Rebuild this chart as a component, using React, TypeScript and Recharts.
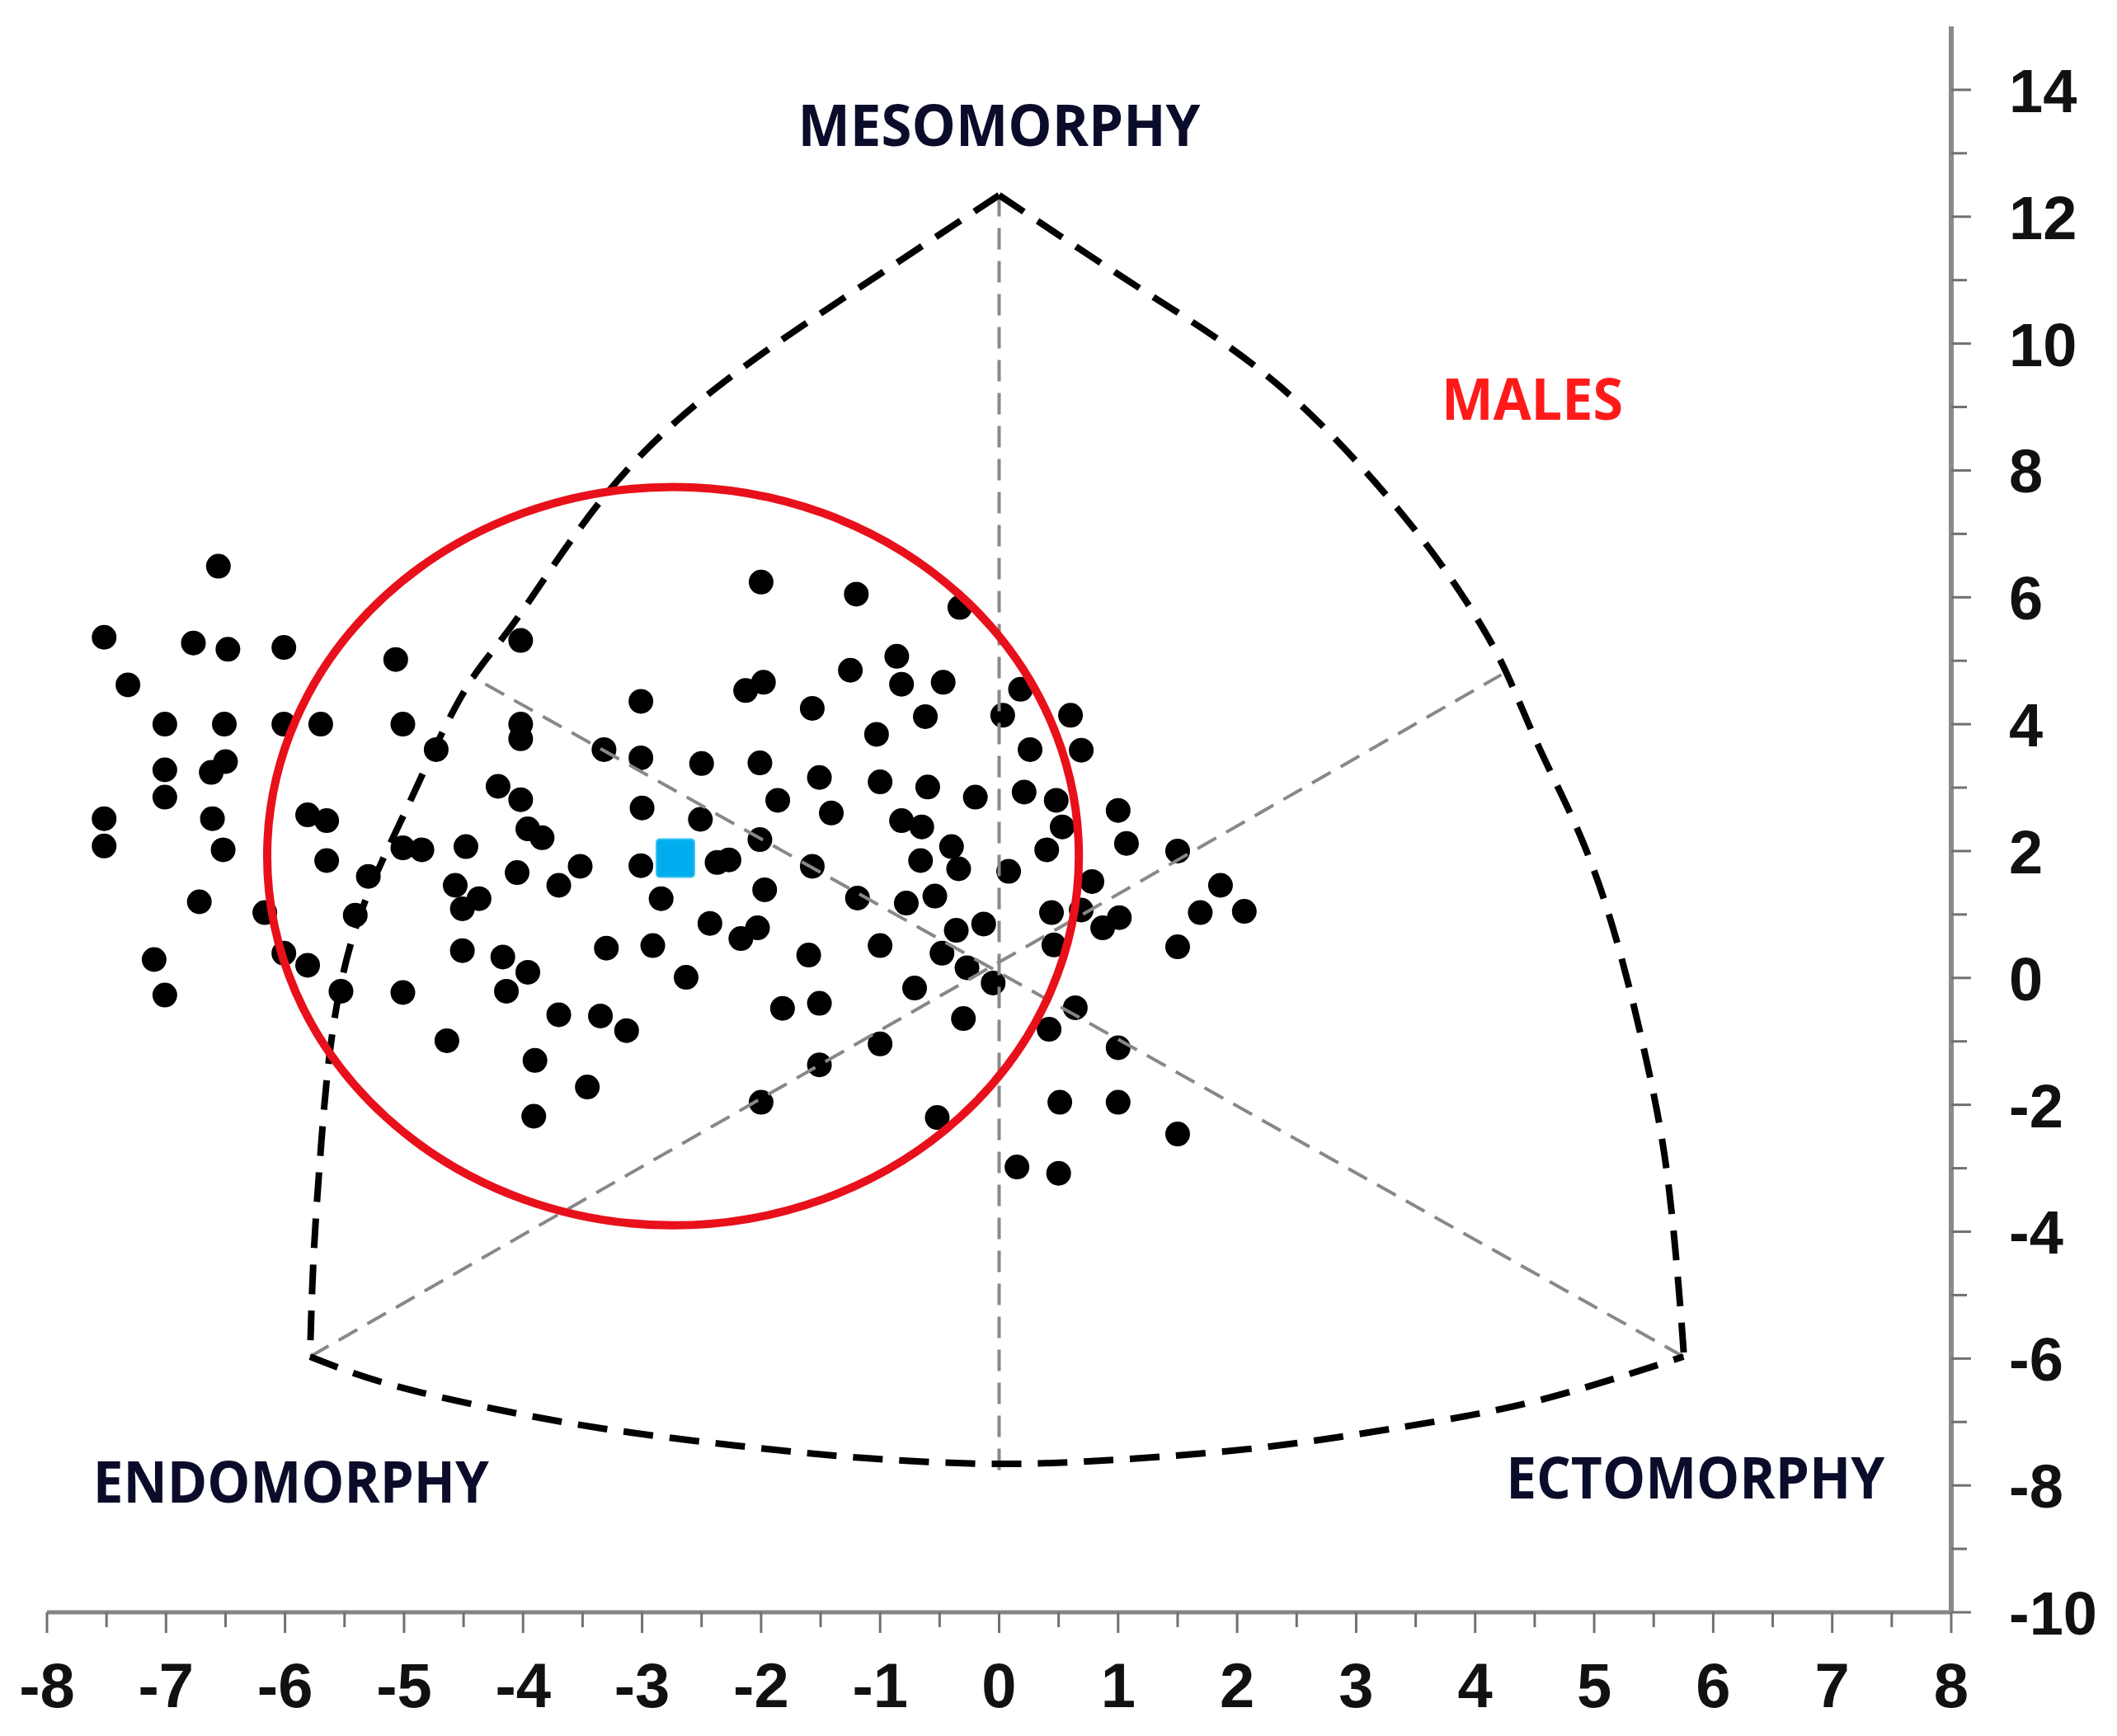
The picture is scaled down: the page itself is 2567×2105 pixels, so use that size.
import React from 'react';
import { ScatterChart, Scatter, XAxis, YAxis, ReferenceArea, ReferenceDot } from 'recharts';

type Pt = [number, number];

// axis ticks (labels only on the integers / even numbers)
const xTicks = [-8, -7.5, -7, -6.5, -6, -5.5, -5, -4.5, -4, -3.5, -3, -2.5, -2, -1.5, -1, -0.5, 0,
  0.5, 1, 1.5, 2, 2.5, 3, 3.5, 4, 4.5, 5, 5.5, 6, 6.5, 7, 7.5, 8];
const yTicks = [-10, -9, -8, -7, -6, -5, -4, -3, -2, -1, 0, 1, 2, 3, 4, 5, 6, 7, 8, 9, 10, 11, 12, 13, 14];

// individual somatotypes, endomorphic side
const endoSide: Pt[] = [
  [-6.56, 6.49], [-7.52, 5.37], [-6.77, 5.28], [-6.48, 5.18], [-6.01, 5.21], [-5.07, 5.02], [-4.02, 5.32],
  [-7.32, 4.62], [-7.01, 4.0], [-6.51, 4.0], [-6.01, 4.0], [-5.7, 4.0], [-5.01, 4.0], [-4.73, 3.6],
  [-4.02, 4.0], [-4.02, 3.77], [-7.01, 3.28], [-7.01, 2.85], [-6.62, 3.24], [-6.5, 3.41], [-7.52, 2.51],
  [-7.52, 2.08], [-6.61, 2.51], [-6.52, 2.02], [-5.81, 2.57], [-5.65, 2.48], [-5.65, 1.85], [-5.3, 1.6],
  [-5.41, 0.99], [-5.01, 2.05], [-4.85, 2.02], [-4.48, 2.07], [-4.21, 3.02], [-4.02, 2.81], [-3.96, 2.35],
  [-3.84, 2.21], [-4.05, 1.66], [-3.7, 1.46], [-3.52, 1.76], [-4.57, 1.46], [-4.37, 1.25], [-4.51, 1.09],
  [-6.72, 1.2], [-6.17, 1.03], [-6.01, 0.39], [-5.81, 0.2], [-7.1, 0.29], [-7.01, -0.27], [-5.53, -0.21],
  [-5.01, -0.23], [-4.51, 0.43], [-4.17, 0.33], [-3.96, 0.09], [-4.14, -0.21], [-4.64, -0.99],
  [-3.7, -0.58], [-3.35, -0.6], [-3.13, -0.83], [-3.9, -1.3], [-3.46, -1.72], [-3.91, -2.18],
];

// individual somatotypes, central / ectomorphic side
const centralSide: Pt[] = [
  [-3.01, 4.36], [-3.32, 3.6], [-3.01, 3.47], [-2.5, 3.38], [-3.01, 1.77], [-2.84, 1.25], [-2.43, 0.86],
  [-2.17, 0.62], [-3.3, 0.47], [-2.91, 0.51], [-2.63, 0.01], [-2.0, 6.24], [-1.2, 6.05], [-0.33, 5.84],
  [-0.86, 5.07], [-0.82, 4.63], [-1.25, 4.85], [-0.47, 4.66], [-2.13, 4.53], [-1.98, 4.66], [-1.57, 4.25],
  [-0.62, 4.12], [0.18, 4.55], [0.03, 4.14], [0.6, 4.14], [0.69, 3.59], [0.26, 3.6], [-1.03, 3.84],
  [-2.01, 3.39], [-1.51, 3.16], [-1.0, 3.09], [-0.6, 3.01], [-0.2, 2.85], [0.21, 2.93], [0.48, 2.8],
  [0.53, 2.38], [1.0, 2.64], [1.07, 2.12], [-1.86, 2.8], [-1.41, 2.6], [-3.0, 2.68], [-2.51, 2.5],
  [-0.82, 2.48], [-0.65, 2.38], [-2.01, 2.18], [-0.4, 2.07], [-0.34, 1.72], [-0.66, 1.85], [0.4, 2.02],
  [0.08, 1.68], [-1.57, 1.76], [-2.37, 1.82], [-2.27, 1.86], [-1.97, 1.39], [-1.19, 1.26], [-0.78, 1.18],
  [-0.54, 1.29], [0.78, 1.52], [0.44, 1.03], [0.69, 1.07], [1.01, 0.95], [0.87, 0.79], [1.5, 2.0],
  [1.86, 1.46], [1.69, 1.03], [2.06, 1.05], [1.5, 0.49], [-2.03, 0.79], [-1.6, 0.36], [-1.0, 0.51],
  [-0.36, 0.75], [-0.13, 0.85], [-0.48, 0.39], [-0.27, 0.16], [-0.05, -0.08], [0.46, 0.52], [-0.71, -0.16],
  [-0.3, -0.64], [0.64, -0.47], [0.42, -0.81], [1.0, -1.1], [-1.82, -0.48], [-1.51, -0.4], [-1.0, -1.04],
  [0.51, -1.96], [1.0, -1.96], [1.5, -2.46], [-0.52, -2.2], [-2.0, -1.96], [-1.51, -1.37], [0.15, -2.98],
  [0.5, -3.08],
];

// mean somatotype
const meanSomatotype: Pt[] = [[-2.72, 1.89]];

// red circle around the group (x range, y range)
const groupCircleX = [-6.15, 0.67];
const groupCircleY = [-3.9, 7.74];

// somatochart outline
const mesoEndoArc: Pt[] = [
  [0, 12.34], [-1.2, 10.85], [-2.35, 9.34], [-3.3, 7.63], [-4.03, 5.72], [-4.42, 4.74], [-4.73, 3.67],
  [-5.02, 2.5], [-5.38, 0.94], [-5.6, -0.84], [-5.7, -2.71], [-5.76, -4.4], [-5.79, -5.97],
];
const mesoEctoArc: Pt[] = [
  [0, 12.34], [1.2, 10.85], [2.35, 9.34], [3.37, 7.35], [3.93, 5.92], [4.25, 4.86], [4.54, 3.62],
  [4.91, 2.12], [5.22, 0.38], [5.46, -1.48], [5.63, -3.35], [5.74, -5.59], [5.75, -5.97],
];
const endoEctoArc: Pt[] = [
  [-5.79, -5.97], [-5.17, -6.38], [-4.3, -6.77], [-3.34, -7.1], [-2.22, -7.37], [-1.12, -7.57], [0, -7.66],
  [1.03, -7.59], [2.22, -7.4], [3.42, -7.07], [4.53, -6.66], [5.75, -5.97],
];
const mesoAxis: Pt[] = [[0, 12.34], [0, -7.9]];
const endoAxis: Pt[] = [[-5.79, -5.97], [4.22, 4.78]];
const ectoAxis: Pt[] = [[5.75, -5.97], [-4.42, 4.74]];

const toXY = (pts: Pt[]) => pts.map(([x, y]) => ({ x, y }));

const TICK_FONT = '"Liberation Sans", Arial, sans-serif';
const LABEL_FONT = '"Open Sans", Lato, sans-serif';

function XTick(props: any) {
  const { x, y, payload } = props;
  const v = payload.value as number;
  const major = Number.isInteger(v);
  return (
    <g>
      <line x1={x} x2={x} y1={y} y2={y + (major ? 25 : 18)} stroke="#707070" strokeWidth={3} />
      {major && (
        <text x={x} y={y + 115} textAnchor="middle" fontFamily={TICK_FONT} fontWeight="bold" fontSize={76} fill="#111">
          {v}
        </text>
      )}
    </g>
  );
}

function YTick(props: any) {
  const { x, y, payload } = props;
  const v = payload.value as number;
  const major = v % 2 === 0;
  return (
    <g>
      <line x1={x} x2={x + (major ? 24 : 19)} y1={y} y2={y} stroke="#707070" strokeWidth={3} />
      {major && (
        <text x={x + 70} y={y + 27} textAnchor="start" fontFamily={TICK_FONT} fontWeight="bold" fontSize={74} fill="#111">
          {v}
        </text>
      )}
    </g>
  );
}

function areaLabel(text: string, width: number, color: string) {
  return (p: any) => (
    <text
      x={p.cx}
      y={p.cy + 25}
      textAnchor="middle"
      textLength={width}
      lengthAdjust="spacingAndGlyphs"
      fontFamily={LABEL_FONT}
      fontWeight="bold"
      fontSize={70}
      fill={color}
    >
      {text}
    </text>
  );
}

const noMarker = () => <g />;

export default function App() {
  const outline = { stroke: '#000', strokeWidth: 8, strokeDasharray: '36 20' };
  const guide = { stroke: '#888', strokeWidth: 4, strokeDasharray: '26 14' };

  return (
    <div style={{ position: 'absolute', left: 0, top: 0, background: '#fff' }}>
      <ScatterChart width={2567} height={2105} margin={{ top: 32, right: 11, bottom: 10, left: 57 }}>
        <XAxis
          type="number"
          dataKey="x"
          domain={[-8, 8]}
          ticks={xTicks}
          interval={0}
          tick={<XTick />}
          tickLine={false}
          tickSize={0}
          tickMargin={0}
          axisLine={{ stroke: '#858585', strokeWidth: 5 }}
          height={140}
          allowDataOverflow
        />
        <YAxis
          type="number"
          dataKey="y"
          orientation="right"
          domain={[-10, 15]}
          ticks={yTicks}
          interval={0}
          tick={<YTick />}
          tickLine={false}
          tickSize={0}
          tickMargin={0}
          axisLine={{ stroke: '#8a8a8a', strokeWidth: 6 }}
          width={190}
          allowDataOverflow
        />

        <Scatter
          data={toXY(endoSide)}
          fill="#000"
          isAnimationActive={false}
          shape={(p: any) => <circle cx={p.cx} cy={p.cy} r={15} fill="#000" />}
        />
        <Scatter
          data={toXY(centralSide)}
          fill="#000"
          isAnimationActive={false}
          shape={(p: any) => <circle cx={p.cx} cy={p.cy} r={15} fill="#000" />}
        />

        <Scatter data={toXY(mesoAxis)} fill="#888" line={guide} shape={noMarker} isAnimationActive={false} />
        <Scatter data={toXY(endoAxis)} fill="#888" line={guide} shape={noMarker} isAnimationActive={false} />
        <Scatter data={toXY(ectoAxis)} fill="#888" line={guide} shape={noMarker} isAnimationActive={false} />

        <Scatter data={toXY(mesoEndoArc)} fill="#000" line={outline} lineJointType="natural" shape={noMarker} isAnimationActive={false} />
        <Scatter data={toXY(mesoEctoArc)} fill="#000" line={outline} lineJointType="natural" shape={noMarker} isAnimationActive={false} />
        <Scatter data={toXY(endoEctoArc)} fill="#000" line={outline} lineJointType="natural" shape={noMarker} isAnimationActive={false} />

        <ReferenceArea
          x1={groupCircleX[0]}
          x2={groupCircleX[1]}
          y1={groupCircleY[0]}
          y2={groupCircleY[1]}
          zIndex={700}
          shape={(p: any) => (
            <ellipse
              cx={p.x + p.width / 2}
              cy={p.y + p.height / 2}
              rx={p.width / 2}
              ry={p.height / 2}
              fill="none"
              stroke="#e8101a"
              strokeWidth={10}
            />
          )}
        />

        <Scatter
          data={toXY(meanSomatotype)}
          fill="#00aeef"
          zIndex={800}
          isAnimationActive={false}
          shape={(p: any) => (
            <rect x={p.cx - 23} y={p.cy - 23} width={46} height={46} rx={4} fill="#00aeef" stroke="#36c2f2" strokeWidth={2} />
          )}
        />

        <ReferenceDot x={0} y={13.44} r={1} shape={areaLabel('MESOMORPHY', 488, '#0b0b2a')} />
        <ReferenceDot x={-5.95} y={-7.95} r={1} shape={areaLabel('ENDOMORPHY', 480, '#0b0b2a')} />
        <ReferenceDot x={5.85} y={-7.88} r={1} shape={areaLabel('ECTOMORPHY', 459, '#0b0b2a')} />
        <ReferenceDot x={4.48} y={9.12} r={1} shape={areaLabel('MALES', 220, '#ff1a1a')} />
      </ScatterChart>
    </div>
  );
}
